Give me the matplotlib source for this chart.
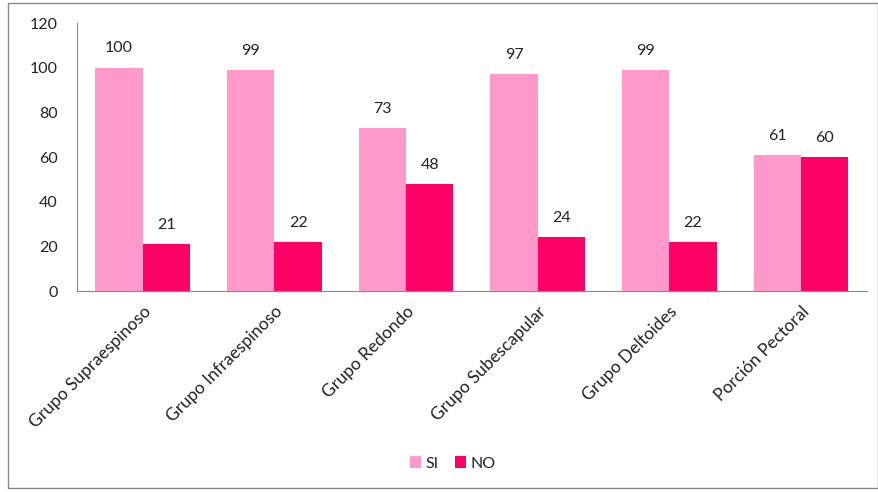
import matplotlib.pyplot as plt
import matplotlib.transforms as mtransforms
import numpy as np
from matplotlib.patches import Rectangle

categorias = ["Grupo Supraespinoso", "Grupo Infraespinoso", "Grupo Redondo",
              "Grupo Subescapular", "Grupo Deltoides", "Porción Pectoral"]
si = [100, 99, 73, 97, 99, 61]
no = [21, 22, 48, 24, 22, 60]

col_si = "#FF99CC"
col_no = "#FF0066"
txt = "#222222"

plt.rcParams['font.family'] = ['Lato', 'DejaVu Sans']

fig = plt.figure(figsize=(8.79, 4.92), dpi=100)
ax = fig.add_axes([0.0876, 0.4085, 0.8984, 0.5445])

# marco exterior del grafico
fig.patches.append(Rectangle((0.009, 0.008), 0.99, 0.985, transform=fig.transFigure,
                             fill=False, edgecolor="#888888", linewidth=1))

x = np.arange(len(categorias))
w = 0.36
b1 = ax.bar(x - w / 2, si, w, color=col_si, label="SI")
b2 = ax.bar(x + w / 2, no, w, color=col_no, label="NO")

for barras, vals in ((b1, si), (b2, no)):
    for r, v in zip(barras, vals):
        ax.text(r.get_x() + r.get_width() / 2, v + 5.5, str(v), ha="center",
                va="bottom", fontsize=11.5, color=txt)

ax.set_xlim(-0.5, len(categorias) - 0.5)
ax.set_ylim(0, 120)
ax.set_yticks(range(0, 121, 20))
ax.set_xticks(x)
ax.set_xticklabels(categorias, rotation=45, ha="right", va="top",
                   rotation_mode="anchor", fontsize=12.5, color=txt)
desplaz = mtransforms.ScaledTranslation(-0.07, 0, fig.dpi_scale_trans)
for lab in ax.get_xticklabels():
    lab.set_transform(lab.get_transform() + desplaz)
ax.tick_params(axis="y", length=0, pad=14, labelsize=11.5, labelcolor=txt)
ax.tick_params(axis="x", length=0, pad=9)

for s in ("top", "right"):
    ax.spines[s].set_visible(False)
ax.spines["left"].set_color("#888888")
ax.spines["bottom"].set_color("#888888")

fig.legend(handles=[b1, b2], labels=["SI", "NO"], loc="center",
           bbox_to_anchor=(0.515, 0.058), ncol=2, frameon=False, fontsize=11.5,
           handlelength=0.7, handleheight=0.7, handletextpad=0.3,
           columnspacing=1.0, labelcolor=txt)

fig.savefig("out.png", dpi=100)
